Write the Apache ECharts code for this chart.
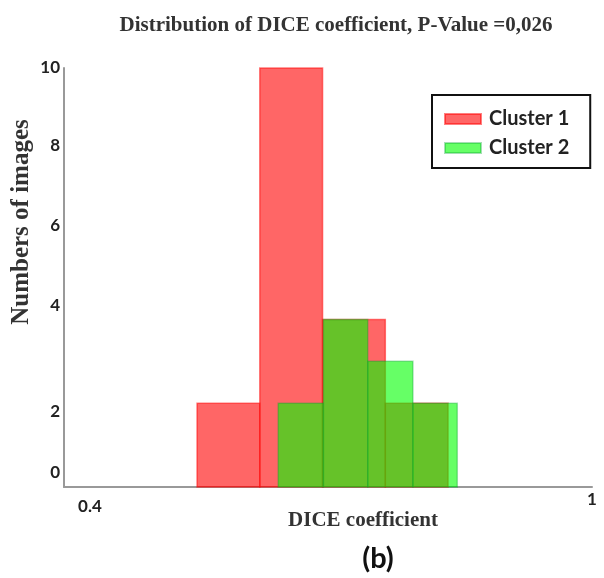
<!DOCTYPE html>
<html><head><meta charset="utf-8">
<script src="https://cdn.jsdelivr.net/npm/echarts@6/dist/echarts.min.js"></script>
<style>html,body{margin:0;padding:0;background:#fff}#c{width:604px;height:578px}</style>
</head><body><div id="c"></div>
<script>
// Histogram bins (DICE coefficient edges) and counts
const cluster1Edges = [0.528, 0.603, 0.678, 0.753, 0.828];
const cluster1Counts = [2, 10, 4, 2];
const cluster2Edges = [0.625, 0.679, 0.732, 0.786, 0.839];
const cluster2Counts = [2, 4, 3, 2];
const xTickLabels = [0.4, 1];
const yTickLabels = [0, 2, 4, 6, 8, 10];
const seriesNames = ['Cluster 1', 'Cluster 2'];

// label vertical nudges (px, negative = up, positive = down), purely styling
const yLabelShift = { 0: -14, 2: 8, 4: -14, 6: -10, 8: -6, 10: 0 };
const xLabelShift = { 0.4: 7, 1: 0 };

function richFor(shifts, base, mode) {
  const rich = {};
  Object.keys(shifts).forEach((k, i) => {
    const d = shifts[k];
    let padding;
    if (mode === 'top') padding = [d, 0, 0, 0];
    else padding = d < 0 ? [0, 0, -2 * d, 0] : [2 * d, 0, 0, 0];
    rich['s' + i] = Object.assign({}, base, { padding });
  });
  return rich;
}
function fmtFor(shifts) {
  const keys = Object.keys(shifts);
  return v => {
    const i = keys.findIndex(k => Math.abs(Number(k) - v) < 1e-9);
    return '{s' + i + '|' + v + '}';
  };
}
const tickFont = { fontFamily: 'Lato', fontWeight: 'bold', fontSize: 17, color: '#222' };

function bins(edges, counts) {
  return counts.map((c, i) => [edges[i], edges[i + 1], c]);
}
function renderBar(params, api) {
  const p0 = api.coord([api.value(0), 0]);
  const p1 = api.coord([api.value(1), api.value(2)]);
  return {
    type: 'rect',
    shape: { x: p0[0], y: p1[1], width: p1[0] - p0[0], height: p0[1] - p1[1] },
    style: api.style()
  };
}
const chart = echarts.init(document.getElementById('c'));
chart.setOption({
  animation: false,
  title: {
    text: 'Distribution of DICE coefficient, P-Value =0,026',
    left: 331, top: 10, textAlign: 'center',
    textStyle: { fontFamily: 'Liberation Serif', fontWeight: 'bold', fontSize: 21, color: '#333' }
  },
  graphic: [
    {
      type: 'text', x: 22, y: 222, rotation: Math.PI / 2,
      style: { text: 'Numbers of images', font: 'bold 25px "Liberation Serif"', fill: '#333',
               align: 'center', verticalAlign: 'middle' }
    },
    {
      type: 'text', x: 363, y: 521,
      style: { text: 'DICE coefficient', font: 'bold 21px "Liberation Serif"', fill: '#333',
               align: 'center', verticalAlign: 'middle' }
    },
    {
      type: 'text', x: 378, y: 559,
      style: { text: '(b)', font: 'bold 29px "Lato"', fill: '#111',
               align: 'center', verticalAlign: 'middle' }
    }
  ],
  legend: {
    orient: 'vertical', left: 432, top: 95,
    padding: [14, 21, 10, 12], itemGap: 9,
    borderColor: '#111', borderWidth: 2,
    itemWidth: 36, itemHeight: 10, icon: 'rect',
    textStyle: { fontFamily: 'Lato', fontWeight: 'bold', fontSize: 20, color: '#222', padding: [0, 0, 0, 3] },
    data: seriesNames
  },
  grid: { left: 64, right: 12, top: 68, bottom: 91 },
  xAxis: {
    type: 'value', min: 0.369, max: 1.0,
    axisLine: { lineStyle: { color: '#999', width: 2 } },
    axisTick: { show: false },
    splitLine: { show: false },
    axisLabel: {
      customValues: xTickLabels, margin: 4,
      formatter: fmtFor(xLabelShift),
      rich: richFor(xLabelShift, tickFont, 'top')
    }
  },
  yAxis: {
    type: 'value', min: 0, max: 10, interval: 2,
    axisLine: { show: true, lineStyle: { color: '#999', width: 2 } },
    axisTick: { show: false },
    splitLine: { show: false },
    axisLabel: {
      customValues: yTickLabels, margin: 4,
      formatter: fmtFor(yLabelShift),
      rich: richFor(yLabelShift, tickFont, 'middle')
    }
  },
  series: [
    {
      name: seriesNames[0], type: 'custom', renderItem: renderBar,
      encode: { x: [0, 1], y: 2 },
      itemStyle: { color: 'rgba(255,0,0,0.6)', borderColor: 'rgba(255,0,0,0.5)', borderWidth: 1.5 },
      data: bins(cluster1Edges, cluster1Counts)
    },
    {
      name: seriesNames[1], type: 'custom', renderItem: renderBar,
      encode: { x: [0, 1], y: 2 },
      itemStyle: { color: 'rgba(0,255,0,0.6)', borderColor: 'rgba(0,160,40,0.35)', borderWidth: 1.5 },
      data: bins(cluster2Edges, cluster2Counts)
    }
  ]
});
</script></body></html>
